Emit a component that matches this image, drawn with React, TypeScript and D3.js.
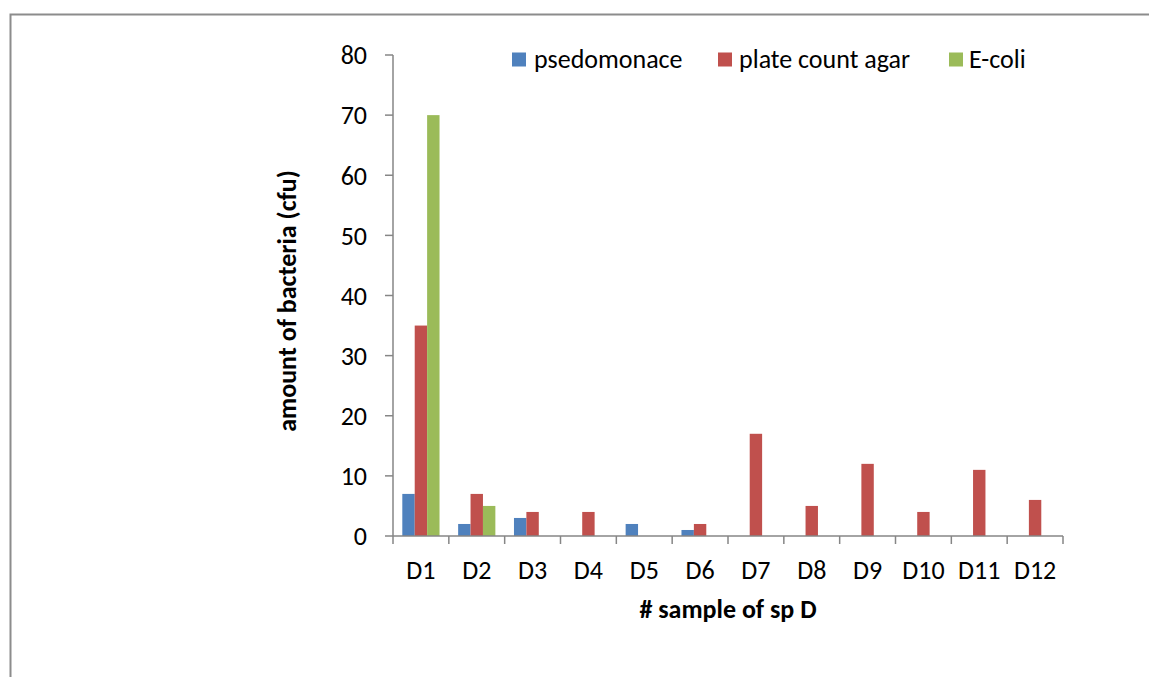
import React from "react";
import * as d3 from "d3";

const categories = ["D1", "D2", "D3", "D4", "D5", "D6", "D7", "D8", "D9", "D10", "D11", "D12"];
const seriesNames = ["psedomonace", "plate count agar", "E-coli"];
const pseudomonas = [7, 2, 3, 0, 2, 1, 0, 0, 0, 0, 0, 0];
const plateCount = [35, 7, 4, 4, 0, 2, 17, 5, 12, 4, 11, 6];
const eColi = [70, 5, 0, 0, 0, 0, 0, 0, 0, 0, 0, 0];
const yTicks = [0, 10, 20, 30, 40, 50, 60, 70, 80];
const colors = ["#4F81BD", "#C0504D", "#9BBB59"];

const W = 1149;
const H = 677;
const FONT = "Carlito, Calibri, Lato, 'Open Sans', sans-serif";
const FS = 26;

export default function App() {
  const series = [pseudomonas, plateCount, eColi];
  const x0 = 393;
  const x1 = 1063;
  const yTop = 55;
  const yBot = 536;
  const x = d3.scaleBand<string>().domain(categories).range([x0, x1]).paddingInner(0).paddingOuter(0);
  const y = d3.scaleLinear().domain([0, 80]).range([yBot, yTop]);
  const bw = x.bandwidth() / 4.5;
  const axisColor = "#868686";

  const legendItems = [
    { sx: 512, tx: 534 },
    { sx: 718, tx: 739 },
    { sx: 949, tx: 969 },
  ];

  return (
    <svg width={W} height={H} style={{ position: "absolute", left: 0, top: 0, background: "#fff" }} fontFamily={FONT}>
      <rect x={0} y={0} width={W} height={H} fill="#fff" />
      <path d={`M10.5,${H + 5} V14.5 H${W + 5}`} fill="none" stroke="#8c8c8c" strokeWidth={2} />
      {/* bars */}
      {series.map((vals, si) =>
        vals.map((v, ci) =>
          v > 0 ? (
            <rect
              key={`${si}-${ci}`}
              x={(x(categories[ci]) as number) + bw * 0.75 + si * bw}
              y={y(v)}
              width={bw}
              height={yBot - y(v)}
              fill={colors[si]}
            />
          ) : null
        )
      )}
      {/* y axis */}
      <line x1={x0} x2={x0} y1={yTop} y2={yBot} stroke={axisColor} strokeWidth={1.5} />
      {yTicks.map((t) => (
        <g key={t}>
          <line x1={x0 - 8} x2={x0} y1={y(t)} y2={y(t)} stroke={axisColor} strokeWidth={1.5} />
          <text x={367} y={y(t)} dy="0.36em" textAnchor="end" fontSize={FS} fill="#000">
            {t}
          </text>
        </g>
      ))}
      {/* x axis */}
      <line x1={x0} x2={x1} y1={yBot} y2={yBot} stroke={axisColor} strokeWidth={1.5} />
      {[...categories.map((c) => x(c) as number), x1].map((px, i) => (
        <line key={i} x1={px} x2={px} y1={yBot} y2={yBot + 8} stroke={axisColor} strokeWidth={1.5} />
      ))}
      {categories.map((c) => (
        <text key={c} x={(x(c) as number) + x.bandwidth() / 2} y={579} textAnchor="middle" fontSize={FS} fill="#000">
          {c}
        </text>
      ))}
      {/* axis titles */}
      <text x={728} y={618} textAnchor="middle" fontSize={FS} fontWeight="bold" fill="#000">
        # sample of sp D
      </text>
      <text
        transform={`translate(296,301) rotate(-90)`}
        textAnchor="middle"
        fontSize={FS}
        fontWeight="bold"
        fill="#000"
      >
        amount of bacteria (cfu)
      </text>
      {/* legend */}
      {seriesNames.map((n, i) => (
        <g key={n}>
          <rect x={legendItems[i].sx} y={52.5} width={14} height={14} fill={colors[i]} />
          <text x={legendItems[i].tx} y={68} fontSize={FS} fill="#000">
            {n}
          </text>
        </g>
      ))}
    </svg>
  );
}
